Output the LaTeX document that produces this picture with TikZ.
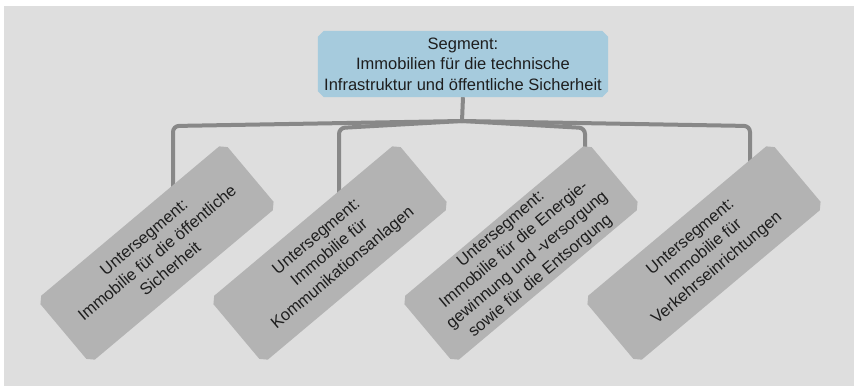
\documentclass[tikz,border=0pt]{standalone}
\usepackage{fontspec}
\setmainfont{Liberation Sans}
\usetikzlibrary{calc,backgrounds}

\definecolor{pagebg}{HTML}{DEDEDE}
\definecolor{segblue}{HTML}{A6CBDD}
\definecolor{subgray}{HTML}{B3B3B3}
\definecolor{linkgray}{HTML}{888888}
\definecolor{inkgray}{HTML}{1E1E1E}

% fill the outline of a (possibly rotated) rectangle node with cut corners
\newcommand\cutcornerfill[3]{%
  \fill[#2]
    ($(#1.north west)!#3!(#1.north east)$) -- ($(#1.north east)!#3!(#1.north west)$) --
    ($(#1.north east)!#3!(#1.south east)$) -- ($(#1.south east)!#3!(#1.north east)$) --
    ($(#1.south east)!#3!(#1.south west)$) -- ($(#1.south west)!#3!(#1.south east)$) --
    ($(#1.south west)!#3!(#1.north west)$) -- ($(#1.north west)!#3!(#1.south west)$) -- cycle;}

\begin{document}
\begin{tikzpicture}[x=1pt,y=-1pt,
  every node/.style={font=\fontsize{16.5}{20.5}\selectfont, text=inkgray, align=center},
  segbox/.style={rectangle, inner sep=0pt, minimum width=290, minimum height=66},
  subbox/.style={rectangle, inner sep=0pt, minimum width=244, minimum height=83, rotate=40},
  link/.style={draw=linkgray, line width=4pt, rounded corners=6pt}]

  \useasboundingbox (0,0) rectangle (854,386);

  % segment (parent)
  \node[segbox] (seg) at (463,64)
    {Segment:\\Immobilien für die technische\\Infrastruktur und öffentliche Sicherheit};

  % sub-segments, tilted
  \node[subbox] (u1) at (157,253)
    {Untersegment:\\Immobilie für die öffentliche\\Sicherheit};
  \node[subbox] (u2) at (330,253)
    {Untersegment:\\Immobilie für\\Kommunikationsanlagen};
  \node[subbox] (u3) at (521,253)
    {Untersegment:\\Immobilie für die Energie-\\gewinnung und -versorgung\\sowie für die Entsorgung};
  \node[subbox] (u4) at (704,253)
    {Untersegment:\\Immobilie für\\Verkehrseinrichtungen};

  % junction and drop points of the tree bar
  \coordinate (hub) at (462,121);
  \coordinate (d1) at (173,126);
  \coordinate (d2) at (339,128);
  \coordinate (d3) at (585,128);
  \coordinate (d4) at (750,126);
  \coordinate (mid) at (0,205);

  \begin{scope}[on background layer]
    \fill[pagebg] (4,6) rectangle (854,386);
    \draw[link] (seg.south) -- (hub);
    \draw[link] (hub) -- (d1) -- (d1 |- mid);
    \draw[link] (hub) -- (d2) -- (d2 |- mid);
    \draw[link] (hub) -- (d3) -- (d3 |- mid);
    \draw[link] (hub) -- (d4) -- (d4 |- mid);
    \cutcornerfill{seg}{segblue}{6pt}
    \cutcornerfill{u1}{subgray}{6pt}
    \cutcornerfill{u2}{subgray}{6pt}
    \cutcornerfill{u3}{subgray}{6pt}
    \cutcornerfill{u4}{subgray}{6pt}
  \end{scope}
\end{tikzpicture}
\end{document}
